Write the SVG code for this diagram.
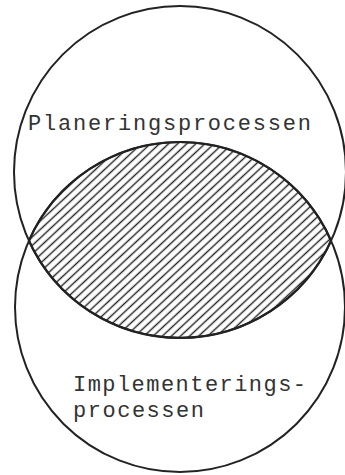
<svg xmlns="http://www.w3.org/2000/svg" width="345" height="475" viewBox="0 0 345 475">
  <style>
    .ring { fill: none; stroke: #222; stroke-width: 2; }
    .lens { fill: url(#hatch); stroke: #222; stroke-width: 2.2; }
    .lbl { font-family: "Liberation Mono", "Courier New", monospace; font-size: 22px; fill: #333; }
  </style>
  <defs>
    <pattern id="hatch" patternUnits="userSpaceOnUse" width="10" height="6.2" patternTransform="rotate(-43)">
      <line x1="-1" y1="3.1" x2="11" y2="3.1" stroke="#222" stroke-width="1.4"/>
    </pattern>
  </defs>
  <rect width="345" height="475" fill="#fff"/>
  <g id="planering">
    <circle class="ring" cx="180" cy="172" r="166"/>
    <text class="lbl" x="28" y="130" textLength="283" lengthAdjust="spacing">Planeringsprocessen</text>
  </g>
  <g id="implementering">
    <circle class="ring" cx="180" cy="307" r="165"/>
    <text class="lbl" x="73" y="391" textLength="233" lengthAdjust="spacing">Implementerings-</text>
    <text class="lbl" x="73" y="417" textLength="131" lengthAdjust="spacing">processen</text>
  </g>
  <g id="overlap">
    <path class="lens" d="M28.9,240.7 A165,165 0 0 1 331.1,240.7 A166,166 0 0 1 28.9,240.7 Z"/>
  </g>
</svg>
